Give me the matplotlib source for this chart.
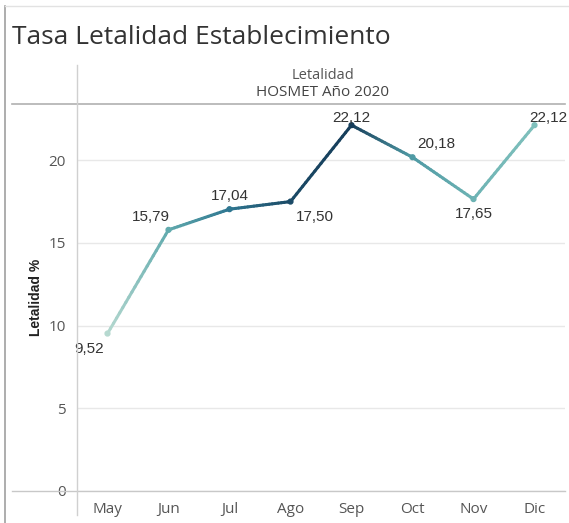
import numpy as np
import matplotlib.pyplot as plt
from matplotlib.collections import LineCollection
from matplotlib.colors import to_rgb
from matplotlib.lines import Line2D

# data
meses = ['May', 'Jun', 'Jul', 'Ago', 'Sep', 'Oct', 'Nov', 'Dic']
letalidad = [9.52, 15.79, 17.04, 17.50, 22.12, 20.18, 17.65, 22.12]
# colour of the line at each point (Tableau colour scale)
colores = ['#b6d9d0', '#62abae', '#2f7791', '#1b4b67', '#163d5a', '#4f9aa4', '#6db3b4', '#7fc0bc']
# where each value label sits: (dx px, dy px, ha, va)
etiquetas = [(-18, -8, 'center', 'top'), (-18, 6, 'center', 'bottom'),
             (0, 6, 'center', 'bottom'), (24, -8, 'center', 'top'),
             (0, 0, 'center', 'bottom'), (24, 6, 'center', 'bottom'),
             (0, -8, 'center', 'top'), (14, 0, 'center', 'bottom')]

fig = plt.figure(figsize=(5.69, 5.23), dpi=100)
fig.patch.set_facecolor('white')
ax = fig.add_axes([77/569, 1-491/523, (565-77)/569, (491-104)/523])

x = np.arange(len(meses))
y = np.array(letalidad)

# gradient line: split each segment into small pieces
segs, cols = [], []
for i in range(len(x)-1):
    c0, c1 = np.array(to_rgb(colores[i])), np.array(to_rgb(colores[i+1]))
    n = 20
    t = np.linspace(0, 1, n+1)
    xs = x[i] + (x[i+1]-x[i])*t
    ys = y[i] + (y[i+1]-y[i])*t
    for k in range(n):
        segs.append([(xs[k], ys[k]), (xs[k+1], ys[k+1])])
        tm = (t[k]+t[k+1])/2
        cols.append(c0*(1-tm) + c1*tm)
lc = LineCollection(segs, colors=cols, linewidths=2.2, capstyle='round', zorder=3)
ax.add_collection(lc)
ax.scatter(x, y, s=12, c=colores, zorder=4)

for xi, yi, (dx, dy, ha, va) in zip(x, y, etiquetas):
    txt = '{:.2f}'.format(yi).replace('.', ',')
    ax.annotate(txt, (xi, yi), xytext=(dx*0.72, dy*0.72), textcoords='offset points',
                ha=ha, va=va, fontsize=11, color='#333333', family='Liberation Sans',
                annotation_clip=False, zorder=5)

ax.set_xlim(-0.5, len(meses)-0.5)
ax.set_ylim(0, 23.4)
ax.set_yticks([0, 5, 10, 15, 20])
ax.set_xticks(x)
ax.set_xticklabels(meses)
ax.tick_params(length=0, labelsize=11, labelcolor='#555555', pad=8)
for lab in ax.get_xticklabels() + ax.get_yticklabels():
    lab.set_family('Open Sans')
ax.yaxis.grid(True, color='#e8e8e8', linewidth=1)
ax.set_axisbelow(True)
for s in ax.spines.values():
    s.set_visible(False)
ax.set_ylabel('Letalidad %', fontsize=10, fontweight='bold', color='#222222',
              family='Liberation Sans', labelpad=4)

# frame lines like the dashboard
fig.add_artist(Line2D([12/569, 565/569], [1-491/523]*2, color='#c8c8c8', lw=1))
fig.add_artist(Line2D([12/569, 565/569], [1-104/523]*2, color='#b0b0b0', lw=1.2))
fig.add_artist(Line2D([77/569]*2, [1-515/523, 1-65/523], color='#d0d0d0', lw=1))
fig.add_artist(Line2D([5/569]*2, [0, 1-6/523], color='#a0a0a0', lw=1.2))
fig.add_artist(Line2D([5/569, 1], [1-6/523]*2, color='#e2e2e2', lw=1))

fig.text(12/569, 1-38/523, 'Tasa Letalidad Establecimiento', fontsize=19,
         color='#333333', family='Open Sans', va='center', ha='left')
fig.text(323/569, 1-75/523, 'Letalidad', fontsize=10.5, color='#555555',
         family='Open Sans', ha='center', va='center')
fig.text(323/569, 1-93/523, 'HOSMET Año 2020', fontsize=11, color='#444444',
         family='Open Sans', ha='center', va='center')

fig.savefig('out.png', dpi=100)
